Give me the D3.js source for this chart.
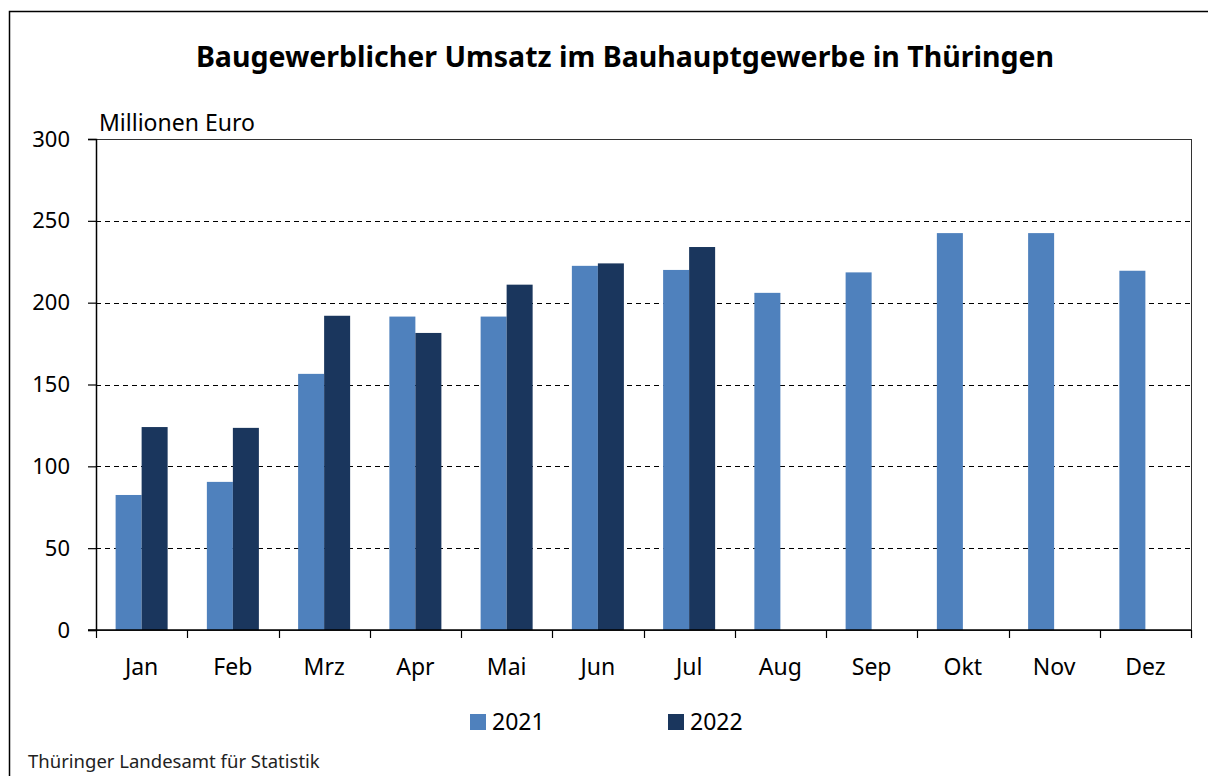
<!DOCTYPE html>
<html>
<head>
<meta charset="utf-8">
<script src="https://cdn.jsdelivr.net/npm/d3@7"></script>
<style>
  body { margin: 0; background: #fff; }
  svg, svg text { font-family: "Noto Sans", "Open Sans", sans-serif; }
</style>
</head>
<body>
<div id="chart"></div>
<script>
// Baugewerblicher Umsatz - Bauhauptgewerbe Thüringen

var months = ["Jan", "Feb", "Mrz", "Apr", "Mai", "Jun", "Jul", "Aug", "Sep", "Okt", "Nov", "Dez"];
var years = ["2021", "2022"];
var values2021 = [82.5, 90.5, 156.5, 191.5, 191.5, 222.5, 220, 206, 218.5, 242.5, 242.5, 219.5];
var values2022 = [124, 123.5, 192, 181.5, 211, 224, 234, null, null, null, null, null];
var yTicks = [0, 50, 100, 150, 200, 250, 300];

var colors = { "2021": "#4f81bd", "2022": "#1a365d" };

var W = 1208, H = 776;
var margin = { top: 139, right: 17, bottom: 146, left: 96 },
    width = W - margin.left - margin.right,
    height = H - margin.top - margin.bottom;

var svg = d3.select("#chart")
    .append("svg")
    .attr("width", W)
    .attr("height", H);

// outer frame
svg.append("rect")
    .attr("x", 9.5).attr("y", 11.5)
    .attr("width", W).attr("height", H)
    .attr("fill", "none")
    .attr("stroke", "#000")
    .attr("stroke-width", 1.5);

svg.append("text")
    .attr("x", 625)
    .attr("y", 67)
    .attr("text-anchor", "middle")
    .style("font-size", "28.5px")
    .style("font-weight", "bold")
    .text("Baugewerblicher Umsatz im Bauhauptgewerbe in Thüringen");

var g = svg.append("g")
    .attr("transform", "translate(" + margin.left + "," + margin.top + ")");

var x = d3.scaleBand()
    .domain(months)
    .range([0, width])
    .paddingInner(0)
    .paddingOuter(0);

var xInner = d3.scaleBand()
    .domain(years)
    .range([x.bandwidth() * 0.215, x.bandwidth() * 0.785]);

var y = d3.scaleLinear()
    .domain([0, 300])
    .range([height, 0]);

// grid lines
g.append("g")
    .selectAll("line")
    .data(yTicks.filter(d => d > 0 && d < 300))
    .join("line")
    .attr("x1", 0).attr("x2", width)
    .attr("y1", d => Math.round(y(d)) + 0.5)
    .attr("y2", d => Math.round(y(d)) + 0.5)
    .attr("stroke", "#000")
    .attr("stroke-width", 1)
    .attr("stroke-dasharray", "5,4");

// plot frame
g.append("rect")
    .attr("x", 0.5).attr("y", 0.5)
    .attr("width", width).attr("height", height)
    .attr("fill", "none")
    .attr("stroke", "#333")
    .attr("stroke-width", 1);

var series = [
    { key: "2021", values: values2021 },
    { key: "2022", values: values2022 }
];

series.forEach(function (s) {
    g.append("g")
        .selectAll("rect")
        .data(s.values.map((v, i) => ({ month: months[i], value: v })).filter(d => d.value != null))
        .join("rect")
        .attr("x", d => x(d.month) + xInner(s.key))
        .attr("width", xInner.bandwidth())
        .attr("y", d => y(d.value))
        .attr("height", d => height - y(d.value))
        .attr("fill", colors[s.key]);
});

// y axis
var yAxis = g.append("g")
    .call(d3.axisLeft(y).tickValues(yTicks).tickSize(8).tickPadding(10));
yAxis.attr("font-family", null).attr("font-size", null);
yAxis.select(".domain").attr("stroke", "#000").attr("stroke-width", 1.5);
yAxis.selectAll(".tick line").attr("stroke", "#000").attr("stroke-width", 1.2);
yAxis.selectAll("text")
    .style("font-size", "22px")
    .attr("fill", "#000")
    .attr("x", -26);

// x axis with ticks at band boundaries
var xAxisG = g.append("g").attr("transform", "translate(0," + height + ")");
xAxisG.append("line")
    .attr("x1", -8).attr("x2", width)
    .attr("y1", 0).attr("y2", 0)
    .attr("stroke", "#000").attr("stroke-width", 1.5);
xAxisG.selectAll("line.tick")
    .data(months.concat(["end"]))
    .join("line")
    .attr("class", "tick")
    .attr("x1", (d, i) => Math.round(i * x.step()) + 0.5)
    .attr("x2", (d, i) => Math.round(i * x.step()) + 0.5)
    .attr("y1", 0).attr("y2", 8)
    .attr("stroke", "#000").attr("stroke-width", 1.2);
xAxisG.selectAll("text")
    .data(months)
    .join("text")
    .attr("x", d => x(d) + x.bandwidth() / 2)
    .attr("y", 45)
    .attr("text-anchor", "middle")
    .style("font-size", "23px")
    .text(d => d);

// unit label
svg.append("text")
    .attr("x", 99)
    .attr("y", 131)
    .style("font-size", "23px")
    .text("Millionen Euro");

// legend
var legend = svg.append("g");
var legendX = { "2021": 470, "2022": 668 };
years.forEach(function (k) {
    legend.append("rect")
        .attr("x", legendX[k]).attr("y", 714)
        .attr("width", 16).attr("height", 16)
        .attr("fill", colors[k]);
    legend.append("text")
        .attr("x", legendX[k] + 22)
        .attr("y", 730)
        .style("font-size", "23px")
        .text(k);
});

// source
svg.append("text")
    .attr("x", 28)
    .attr("y", 768)
    .style("font-size", "18.5px")
    .attr("fill", "#222")
    .text("Thüringer Landesamt für Statistik");
</script>
</body>
</html>
